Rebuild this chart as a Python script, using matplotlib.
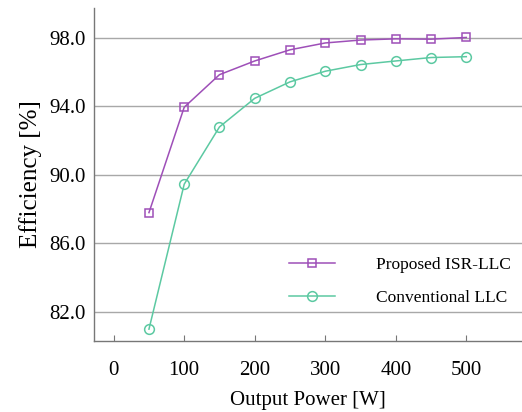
import matplotlib
matplotlib.use("Agg")
import matplotlib.pyplot as plt

power = [50, 100, 150, 200, 250, 300, 350, 400, 450, 500]
proposed = [87.8, 93.95, 95.85, 96.65, 97.3, 97.7, 97.87, 97.94, 97.92, 98.02]
conventional = [81.0, 89.46, 92.8, 94.47, 95.43, 96.05, 96.44, 96.65, 96.85, 96.9]
xticks = [0, 100, 200, 300, 400, 500]
yticks = [82.0, 86.0, 90.0, 94.0, 98.0]

plt.rcParams['font.family'] = ['Liberation Serif', 'DejaVu Serif']

fig = plt.figure(figsize=(5.22, 4.12), dpi=100)
ax = fig.add_axes([0.180, 0.172, 0.82, 0.809])

purple = '#9E4FB8'
green = '#5CC9A2'
ax.plot(power, proposed, color=purple, lw=1.1, marker='s', ms=5.5, mfc='none', mec=purple, mew=1.1,
        label='Proposed ISR-LLC')
ax.plot(power, conventional, color=green, lw=1.1, marker='o', ms=7, mfc='none', mec=green, mew=1.1,
        label='Conventional LLC')

ax.set_xlim(-28, 579)
ax.set_ylim(80.3, 99.75)
ax.set_xticks(xticks)
ax.set_yticks(yticks)
ax.set_yticklabels([f"{v:.1f}" for v in yticks])
ax.yaxis.grid(True, color='#a8a8a8', lw=1.0)
ax.set_axisbelow(True)
for s in ['top', 'right']:
    ax.spines[s].set_visible(False)
for s in ['left', 'bottom']:
    ax.spines[s].set_color('#777777')
    ax.spines[s].set_linewidth(1.0)
ax.tick_params(axis='x', direction='in', length=4, color='#777777', labelsize=15, pad=14)
ax.tick_params(axis='y', length=0, labelsize=15, pad=6)
ax.set_xlabel('Output Power [W]', fontsize=15, labelpad=8)
ax.set_ylabel('Efficiency [%]', fontsize=18, labelpad=5)

leg = ax.legend(loc='upper left', bbox_to_anchor=(0.42, 0.30), frameon=False, fontsize=12.5,
                handlelength=2.6, handletextpad=2.4, labelspacing=1.0)

fig.savefig('out.png', dpi=100)
